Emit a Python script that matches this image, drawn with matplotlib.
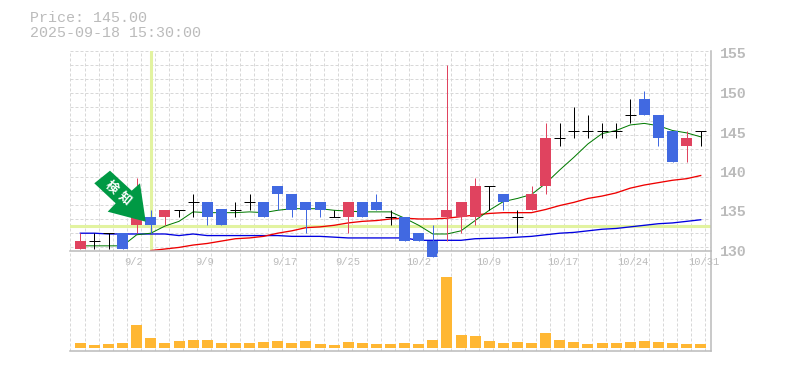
import matplotlib
matplotlib.use('Agg')
import matplotlib.pyplot as plt
from matplotlib.patches import Polygon
from matplotlib.ticker import FixedLocator
from matplotlib.transforms import ScaledTranslation
import numpy as np

opens  = [130,131,132,132,133,134,134,135,136,136,135,135,136,136,138,137,136,136,134,134,136,136,134,134,132,131,134,134,134,138,137,134,135,138,144,145,145,145,145,147,149,147,145,143,145]
closes = [131,131,132,130,134,133,135,135,136,134,133,135,136,134,137,135,135,135,134,136,134,135,134,131,131,129,135,136,138,138,136,134,137,144,144,145,145,145,145,147,147,144,141,144,145]
highs  = [132,132,132,132,139,135,135,135,137,136,135,136,137,136,138,137,136,136,135,136,136,137,135,134,132,133,153.3,136,139,138,137,135,138,146,146,148,147,146,146,149,150,147,145,145,145]
lows   = [130,130,130,130,132,132,133,134,134,133,133,134,135,134,135,134,132,134,134,132,134,135,133,131,131,129,131,132,133,135,135,132,135,137,143,144,144,144,144,146,147,143,141,141,143]

ma_short = [130.4,130.4,130.4,130.4,131.8,132,132.9,133.5,134.7,134.6,134.6,134.6,134.7,134.6,134.9,135.1,135.1,135.1,134.9,134.8,134.7,134.7,134.7,133.9,133,131.9,131.9,132.3,133.6,134.9,136,136.4,136.9,138.3,140,141.6,143.3,144.6,145,145.7,145.9,145.6,145,144.7,144.2]
ma_mid = [129.8,130,130.2,130.5,130.7,131,131.3,131.4,131.6,132,132.3,132.7,132.8,133,133.3,133.5,133.6,133.8,133.9,133.8,133.8,133.9,134.1,134.3,134.5,134.6,134.6,134.6,135,135.5,135.9,136.4,136.7,137.1,137.7,138.1,138.4,138.7,138.9,139.3]
ma_long = [132,132,131.9,131.9,131.9,131.9,131.9,131.7,131.9,131.7,131.7,131.7,131.7,131.7,131.7,131.6,131.6,131.6,131.5,131.4,131.4,131.4,131.4,131.4,131.1,131.1,131.1,131.1,131.3,131.35,131.4,131.5,131.6,131.8,132,132.1,132.3,132.5,132.6,132.8,133,133.2,133.3,133.5,133.7]
ma_mid_start = 5

volumes = [5,3,4,5,23,10,5,7,8,8,5,5,5,6,7,5,7,4,3,6,5,4,4,5,4,8,71,13,12,7,5,6,5,15,8,6,4,5,5,6,7,6,5,4,4]

tick_idx = [4,9,14,19,24,29,34,39,44]
tick_labels = ['9/2','9/9','9/17','9/25','10/2','10/9','10/17','10/24','10/31']
tick_shift = [-3,-3,7,0,0,0,3,3,3]
price_ticks = [130,135,140,145,150,155]
marker_idx = 5
marker_price = 132.9

W, H = 785, 370
GRID = '#d8d8d8'
AXIS = '#bbbbbb'
TEXT = '#bbbbbb'
UP = '#e0435f'
DOWN = '#4169e1'
HILITE = '#e2f3a0'
FONT = 'Liberation Mono'
BAR_W = 11 / 14.1

def px_to_price(y):
    return 130 + (249 - y) / 7.9

def px_to_idx(x):
    return (x - 80.3) / 14.1

fig = plt.figure(figsize=(W / 100, H / 100), dpi=100)
ax = fig.add_axes([70 / W, 1 - 250.5 / H, 640.7 / W, 200 / H])
vol = fig.add_axes([70 / W, 1 - 350.5 / H, 640.7 / W, 100 / H])
for a in (ax, vol):
    a.set_xlim(px_to_idx(70), px_to_idx(710.7))
    a.set_facecolor('none')
    a.set_axisbelow(True)
    for s in ('left', 'top'):
        a.spines[s].set_visible(False)
    for s in ('right', 'bottom'):
        a.spines[s].set_color(AXIS)
        a.spines[s].set_linewidth(1.1)
    a.xaxis.set_minor_locator(FixedLocator(np.arange(-0.7, 44.6, 1.0)))
    a.grid(True, axis='x', which='minor', color=GRID, lw=0.72, ls=(0, (3, 2)))
    a.tick_params(which='both', length=0)

ax.set_ylim(px_to_price(250.5), px_to_price(50.5))
ax.yaxis.set_minor_locator(FixedLocator([px_to_price(y) for y in np.arange(50.5, 250, 14)]))
ax.grid(True, axis='y', which='minor', color=GRID, lw=0.72, ls=(0, (3, 2)))

ax.axhline(marker_price, color=HILITE, lw=2.2, zorder=1.5)
ax.axvline(marker_idx, color=HILITE, lw=2.2, zorder=1.5)

# moving averages sit under the candles
x = np.arange(len(opens))
ax.plot(x, ma_long, color='#0000e0', lw=0.95, zorder=2)
ax.plot(x[ma_mid_start:], ma_mid, color='#ee0000', lw=0.95, zorder=2)
ax.plot(x, ma_short, color='#007a00', lw=0.72, zorder=2)

for i in x:
    o, c = opens[i], closes[i]
    col = UP if c > o else DOWN if c < o else 'black'
    ax.plot([i, i], [lows[i], highs[i]], color=col, lw=0.72, zorder=3, clip_on=False, solid_capstyle='butt')
    if c == o:
        ax.plot([i - BAR_W / 2, i + BAR_W / 2], [c, c], color=col, lw=0.72, zorder=3, solid_capstyle='butt')
    else:
        ax.bar(i, abs(c - o), bottom=min(o, c), width=BAR_W, color=col, zorder=3, clip_on=False)

ax.yaxis.tick_right()
ax.set_yticks(price_ticks)
ax.set_yticklabels([str(p) for p in price_ticks], family=FONT, fontsize=10.7, color=TEXT, fontweight='bold')
ax.tick_params(axis='y', pad=6.5)
for lab in ax.get_yticklabels():
    lab.set_transform(lab.get_transform() + ScaledTranslation(0, -1.5 / 100, fig.dpi_scale_trans))

ax.set_xticks(tick_idx)
ax.set_xticklabels(tick_labels, family=FONT, fontsize=7.6, color=TEXT)
ax.tick_params(axis='x', pad=4.8)
for lab, dx in zip(ax.get_xticklabels(), tick_shift):
    lab.set_transform(lab.get_transform() + ScaledTranslation(dx / 100, 0, fig.dpi_scale_trans))

vol.bar(x, volumes, width=BAR_W, color='#ffb733', zorder=3)
vol.set_ylim(-2.4, 97.6)
vol.set_yticks([])
vol.set_xticks([])

# overlay in pixel coordinates for the signal arrow and header
top = fig.add_axes([0, 0, 1, 1], facecolor='none')
top.set_xlim(0, W)
top.set_ylim(H, 0)
top.axis('off')
top.add_patch(Polygon([(94.3, 183.3), (110, 170.7), (131.7, 190.7), (140, 183.3),
                       (145.7, 221.7), (107.7, 211.7), (115.7, 203.3)],
                      closed=True, facecolor='#009944', edgecolor='none', zorder=5))
top.text(111, 187.5, '検', family='Noto Sans CJK JP', fontsize=9, fontweight='bold', color='white',
         rotation=-40, ha='center', va='center', zorder=6)
top.text(124.3, 198.3, '知', family='Noto Sans CJK JP', fontsize=9, fontweight='bold', color='white',
         rotation=-40, ha='center', va='center', zorder=6)
top.text(30, 18, 'Price: 145.00', family=FONT, fontsize=10.8, color=TEXT, ha='left', va='center')
top.text(30, 33, '2025-09-18 15:30:00', family=FONT, fontsize=10.8, color=TEXT, ha='left', va='center')

fig.savefig('out.png', dpi=100)
